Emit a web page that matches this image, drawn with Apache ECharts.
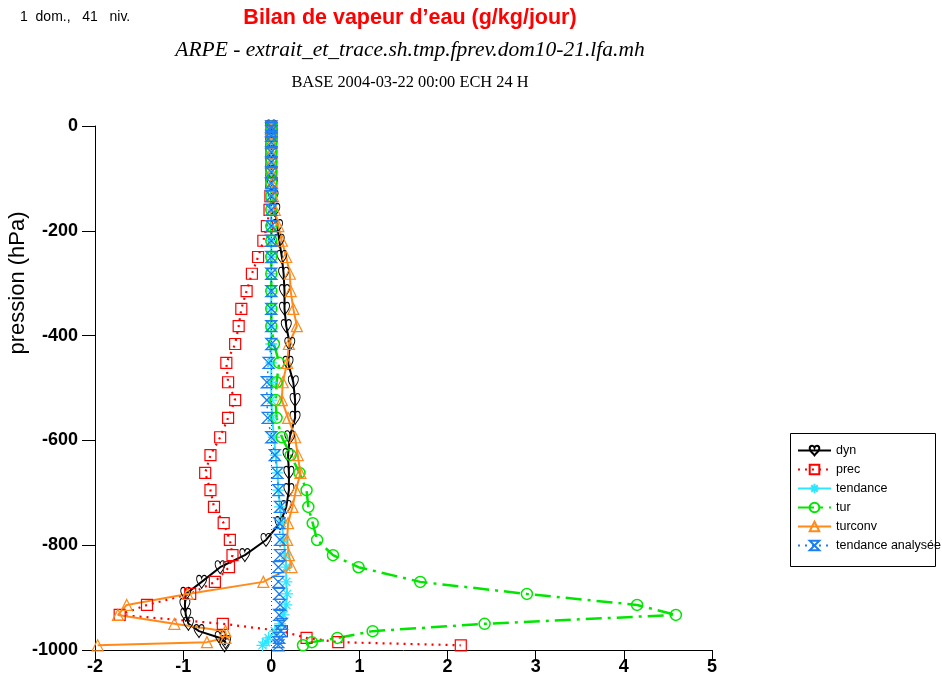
<!DOCTYPE html>
<html>
<head>
<meta charset="utf-8">
<script src="https://cdn.jsdelivr.net/npm/echarts@6/dist/echarts.min.js"></script>
<style>html,body{margin:0;padding:0;background:#fff;}#c{width:942px;height:693px;}</style>
</head>
<body>
<div id="c"></div>
<script>
// pressure levels (hPa, negative downward)
const levels = [-1, -4, -10, -19, -31, -50, -69, -88, -109, -134, -160, -191, -219, -250, -282, -315, -349, -382, -416, -452, -489, -523, -557, -594, -628, -662, -695, -727, -758, -790, -819, -842, -870, -893, -914, -933, -950, -964, -977, -985, -991];
const dyn = [0, 0, 0, 0, 0, 0, 0, 0, 0.01, 0.02, 0.04, 0.07, 0.09, 0.12, 0.14, 0.15, 0.15, 0.17, 0.21, 0.19, 0.25, 0.27, 0.27, 0.21, 0.19, 0.20, 0.20, 0.17, 0.10, -0.06, -0.30, -0.58, -0.79, -0.97, -0.98, -0.97, -0.94, -0.82, -0.58, -0.52, -0.53];
const prec = [0, 0, 0, 0, 0, 0, 0, 0, 0, -0.01, -0.02, -0.05, -0.09, -0.15, -0.22, -0.28, -0.34, -0.37, -0.41, -0.51, -0.49, -0.41, -0.49, -0.58, -0.69, -0.75, -0.69, -0.65, -0.54, -0.47, -0.44, -0.48, -0.64, -0.92, -1.41, -1.72, -0.55, 0.12, 0.40, 0.76, 2.15];
const tendance = [0, 0, 0, 0, 0, 0, 0, 0, 0, 0, 0, 0, 0, 0, 0, 0, 0, 0, 0, 0, 0, 0, 0.01, 0.03, 0.05, 0.07, 0.08, 0.10, 0.12, 0.14, 0.16, 0.17, 0.17, 0.18, 0.17, 0.14, 0.10, 0.04, -0.03, -0.06, -0.10];
const tur = [0, 0, 0, 0, 0, 0, 0, 0, 0, 0, 0, 0, 0, 0, 0, 0, 0, 0, 0.03, 0.09, 0.06, 0.05, 0.06, 0.12, 0.22, 0.32, 0.40, 0.42, 0.47, 0.52, 0.70, 0.99, 1.69, 2.90, 4.15, 4.59, 2.42, 1.15, 0.75, 0.46, 0.36];
const turconv = [0, 0, 0, 0, 0, 0, 0, 0, 0.01, 0.02, 0.04, 0.08, 0.12, 0.17, 0.21, 0.22, 0.25, 0.29, 0.20, 0.18, 0.13, 0.12, 0.19, 0.27, 0.30, 0.33, 0.28, 0.24, 0.19, 0.18, 0.20, 0.23, -0.09, -0.95, -1.64, -1.74, -1.10, -0.52, -0.52, -0.73, -1.97];
const tendAna = [0, 0, 0, 0, 0, 0, 0, 0, 0, 0, 0, 0, 0, 0, 0, 0, 0, 0, 0, -0.03, -0.05, -0.05, -0.04, 0.0, 0.04, 0.07, 0.08, 0.10, 0.09, 0.10, 0.10, 0.08, 0.08, 0.09, 0.10, 0.09, 0.12, 0.11, 0.09, 0.08, 0.08];
const xTicks = [-2, -1, 0, 1, 2, 3, 4, 5];
const yTicks = [0, -200, -400, -600, -800, -1000];

const pair = arr => arr.map((v, i) => [v, levels[i]]);
const HEART = 'path://M5,10 C3,7.5 0,5.5 0,2.8 C0,1 1.2,0 2.5,0 C3.8,0 4.6,0.9 5,2.2 C5.4,0.9 6.2,0 7.5,0 C8.8,0 10,1 10,2.8 C10,5.5 7,7.5 5,10 Z';
const HOUR = 'path://M0,0 L10,0 L0,10 L10,10 Z';
const STAR = 'path://M5,0 L5,10 M0,5 L10,5 M1.6,1.6 L8.4,8.4 M8.4,1.6 L1.6,8.4';

function mk(name, arr, color, lineType, lw, symbol, size, bw) {
  return {
    name: name, type: 'line', data: pair(arr),
    symbol: symbol, symbolSize: size,
    itemStyle: { color: 'rgba(0,0,0,0)', borderColor: color, borderWidth: bw },
    lineStyle: { color: color, width: lw, type: lineType },
    emphasis: { disabled: true }, animation: false, z: 3
  };
}
const series = [
  mk('dyn', dyn, '#000000', 'solid', 2, HEART, [10, 13], 1),
  mk('prec', prec, '#ff0000', [2, 5], 2.2, 'rect', 11, 1.2),
  mk('tendance', tendance, '#2ee6ff', 'solid', 2, STAR, 12, 1.3),
  mk('tur', tur, '#00e600', [16, 6, 3, 6], 2.5, 'circle', 11, 1.5),
  mk('turconv', turconv, '#ff8a1a', 'solid', 2, 'triangle', 11, 1.2),
  mk('tendance analysée', tendAna, '#1c7fef', [2, 5], 1.5, HOUR, 11, 1.3)
];
series[0].markLine = {
  silent: true, symbol: ['none', 'none'], label: { show: false },
  lineStyle: { color: '#444', type: [1, 3], width: 1 },
  data: [{ xAxis: 0 }], animation: false
};

const chart = echarts.init(document.getElementById('c'));
chart.setOption({
  animation: false,
  backgroundColor: '#fff',
  grid: { left: 95, right: 230, top: 126, bottom: 43 },
  xAxis: {
    type: 'value', min: xTicks[0], max: xTicks[xTicks.length - 1], interval: 1,
    axisLine: { onZero: false, lineStyle: { color: '#000', width: 1 } },
    axisTick: { show: true, length: 10, lineStyle: { color: '#000' } },
    axisLabel: { color: '#000', fontFamily: 'Liberation Sans, Arial', fontWeight: 'bold', fontSize: 18, margin: 8 },
    splitLine: { show: false }
  },
  yAxis: {
    type: 'value', min: yTicks[yTicks.length - 1], max: yTicks[0], interval: 200,
    axisLine: { show: true, onZero: false, lineStyle: { color: '#000', width: 1 } },
    axisTick: { show: true, length: 13, lineStyle: { color: '#000' } },
    axisLabel: { color: '#000', fontFamily: 'Liberation Sans, Arial', fontWeight: 'bold', fontSize: 18, margin: 17, formatter: v => String(v) },
    splitLine: { show: false }
  },
  legend: {
    orient: 'vertical', left: 797, top: 444, padding: 0, itemWidth: 33, itemHeight: 12, itemGap: 6,
    textStyle: { fontFamily: 'Liberation Sans, Arial', fontSize: 12.5, color: '#000', padding: [0, 0, 0, 0] },
    data: series.map(s => s.name), selectedMode: false
  },
  graphic: [
    { type: 'rect', shape: { x: 790.5, y: 433.5, width: 145, height: 133 }, style: { fill: 'none', stroke: '#000', lineWidth: 1 }, z: -1 },
    { type: 'text', x: 20, y: 17, style: { text: '1  dom.,   41   niv.', font: '14px "Liberation Sans", Arial', fill: '#000', textVerticalAlign: 'middle' } },
    { type: 'text', x: 410, y: 18, style: { text: 'Bilan de vapeur d\u2019eau (g/kg/jour)', font: 'bold 21.5px "Liberation Sans", Arial', fill: '#ff0000', textAlign: 'center', textVerticalAlign: 'middle' } },
    { type: 'text', x: 410, y: 50, style: { text: 'ARPE - extrait_et_trace.sh.tmp.fprev.dom10-21.lfa.mh', font: 'italic 21.5px "Liberation Serif", "Times New Roman"', fill: '#000', textAlign: 'center', textVerticalAlign: 'middle' } },
    { type: 'text', x: 410, y: 83, style: { text: 'BASE 2004-03-22 00:00 ECH 24 H', font: '16.4px "Liberation Serif", "Times New Roman"', fill: '#000', textAlign: 'center', textVerticalAlign: 'middle' } },
    { type: 'text', x: 18, y: 283, rotation: Math.PI / 2, style: { text: 'pression (hPa)', font: '22px "Liberation Sans", Arial', fill: '#000', textAlign: 'center', textVerticalAlign: 'middle' } }
  ],
  series: series
});
</script>
</body>
</html>
